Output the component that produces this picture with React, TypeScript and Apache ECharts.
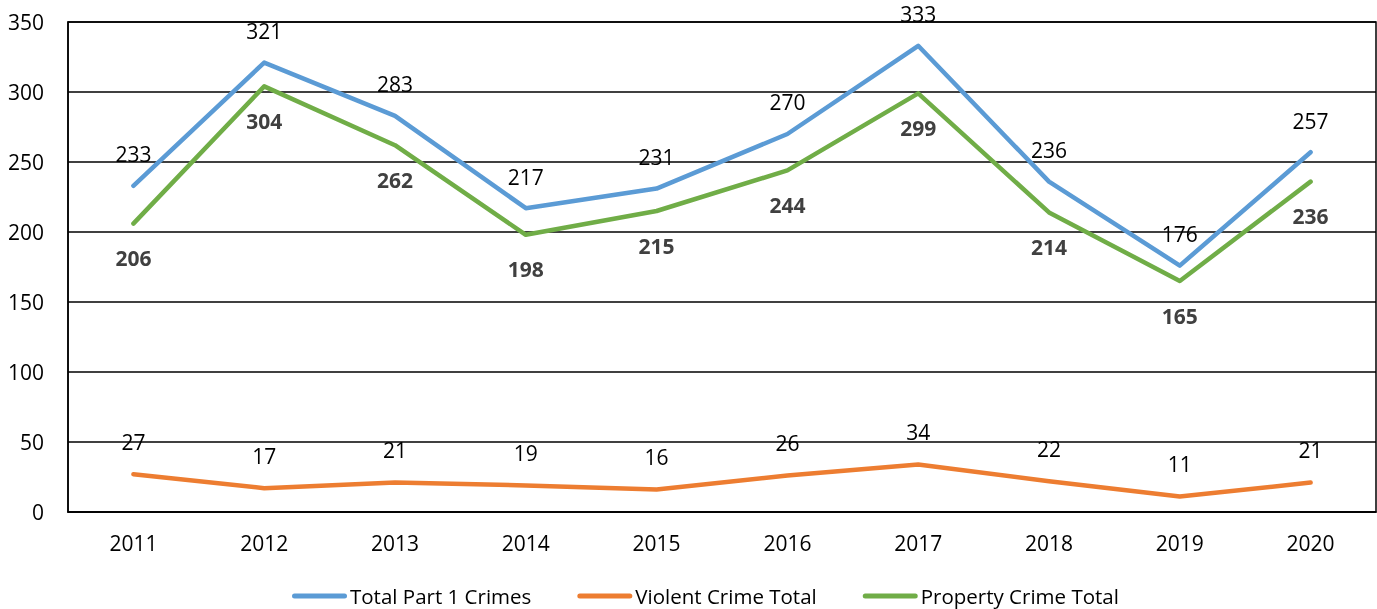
import React, { useEffect, useRef } from "react";
import * as echarts from "echarts";

const years = ["2011", "2012", "2013", "2014", "2015", "2016", "2017", "2018", "2019", "2020"];
const totalPart1 = [233, 321, 283, 217, 231, 270, 333, 236, 176, 257];
const violentTotal = [27, 17, 21, 19, 16, 26, 34, 22, 11, 21];
const propertyTotal = [206, 304, 262, 198, 215, 244, 299, 214, 165, 236];

const FONT = "'Open Sans', 'Noto Sans', sans-serif";
const FS = 21;
const LEGEND_ICON = "path://M2.5,0 H52.5 A2.5,2.5 0 0 1 52.5,5 H2.5 A2.5,2.5 0 0 1 2.5,0 Z";

export default function App() {
  const ref = useRef<HTMLDivElement>(null);
  useEffect(() => {
    if (!ref.current) return;
    const chart = echarts.init(ref.current, undefined, { renderer: "svg" });
    const lineSeries = (name: string, data: number[], color: string, label: any) => ({
      name,
      type: "line",
      data,
      symbol: "circle",
      symbolSize: 0.01,
      showSymbol: true,
      lineStyle: { color, width: 4.5, join: "round", cap: "round" },
      itemStyle: { color },
      label: { show: true, fontFamily: FONT, fontSize: FS, ...label },
    });
    chart.setOption({
      animation: false,
      grid: {
        left: 68,
        right: 1,
        top: 22,
        bottom: 97,
        show: true,
        borderColor: "#000",
        borderWidth: 1.5,
      },
      legend: {
        left: 287,
        top: 579,
        icon: LEGEND_ICON,
        itemWidth: 55,
        itemHeight: 5,
        itemGap: 46,
        textStyle: { fontFamily: FONT, fontSize: 20.5, color: "#000", padding: [0, 0, 0, -2], lineHeight: 24 },
        data: ["Total Part 1 Crimes", "Violent Crime Total", "Property Crime Total"],
      },
      xAxis: {
        type: "category",
        data: years,
        boundaryGap: true,
        axisLine: { show: true, lineStyle: { color: "#000", width: 1.5 } },
        axisTick: { show: false },
        axisLabel: { fontFamily: FONT, fontSize: FS, color: "#000", margin: 20 },
      },
      yAxis: {
        type: "value",
        min: 0,
        max: 350,
        interval: 50,
        axisLine: { show: true, lineStyle: { color: "#000", width: 1.5 } },
        axisTick: { show: false },
        axisLabel: { fontFamily: FONT, fontSize: FS, color: "#000", margin: 24 },
        splitLine: { show: true, lineStyle: { color: "#000", width: 1.5 } },
      },
      series: [
        lineSeries("Total Part 1 Crimes", totalPart1, "#5B9BD5", {
          position: "top",
          distance: 21,
          color: "#000",
        }),
        lineSeries("Violent Crime Total", violentTotal, "#ED7D31", {
          position: "top",
          distance: 22,
          color: "#000",
        }),
        lineSeries("Property Crime Total", propertyTotal, "#70AD47", {
          position: "bottom",
          distance: 24,
          color: "#404040",
          fontWeight: "bold",
        }),
      ],
    });
    return () => chart.dispose();
  }, []);
  return (
    <div
      ref={ref}
      style={{ position: "fixed", left: 0, top: 0, width: 1377, height: 609 }}
    />
  );
}
